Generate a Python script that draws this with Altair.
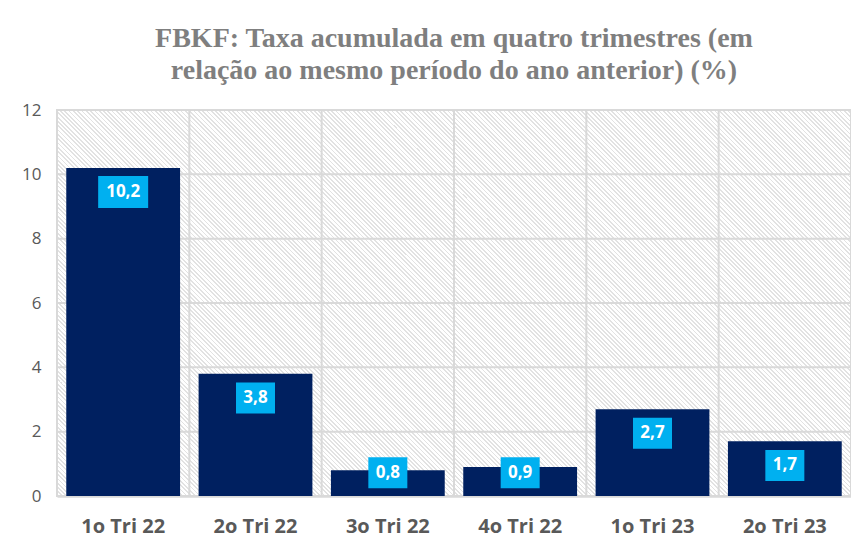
import math
import altair as alt
import pandas as pd

categories = ["1o Tri 22", "2o Tri 22", "3o Tri 22", "4o Tri 22", "1o Tri 23", "2o Tri 23"]
values = [10.2, 3.8, 0.8, 0.9, 2.7, 1.7]
y_ticks = [0, 2, 4, 6, 8, 10, 12]
title_lines = ["FBKF: Taxa acumulada em quatro trimestres (em",
               "relação ao mesmo período do ano anterior) (%)"]

W, H = 794, 386
df = pd.DataFrame({"cat": categories, "value": values})
hgrid_df = pd.DataFrame({"value": y_ticks[1:-1]})
vgrid_df = pd.DataFrame({"cat": categories[1:]})
one_df = pd.DataFrame({"a": [0]})

# diagonal hatch made from a striped linear gradient (45 degree stripes)
invW, invH = 1.0 / W, 1.0 / H
d2 = invW ** 2 + invH ** 2
k = (invW + invH) / d2
gx2, gy2 = invH * k, 1 - invW * k
N = round((W + H) / math.sqrt(2) / 3.05)
stops = []
for i in range(N):
    a, b, c = i / N, (i + 0.4) / N, (i + 1) / N
    stops += [
        {"offset": a, "color": "#e2e2e2"},
        {"offset": b, "color": "#e2e2e2"},
        {"offset": b, "color": "#ffffff"},
        {"offset": c, "color": "#ffffff"},
    ]
gradient = alt.LinearGradient(gradient="linear", stops=stops, x1=0, y1=1, x2=gx2, y2=gy2)

GRID = "#d9d9d9"
TXT = "#595959"

yscale = alt.Scale(domain=[0, 12])
xscale = alt.Scale(domain=categories, paddingInner=0.14, paddingOuter=0.07)

bg = alt.Chart(one_df).mark_rect(fill=gradient, stroke=GRID, strokeWidth=2).encode(
    x=alt.value(0), x2=alt.value(W), y=alt.value(0), y2=alt.value(H)
)

hgrid = alt.Chart(hgrid_df).mark_rule(color=GRID, strokeWidth=2).encode(
    y=alt.Y("value:Q", scale=yscale, title=None, axis=alt.Axis(values=y_ticks))
)

vgrid = alt.Chart(vgrid_df).mark_rule(color=GRID, strokeWidth=2).encode(
    x=alt.X("cat:N", sort=categories, bandPosition=0, title=None,
            scale=alt.Scale(domain=categories, paddingInner=0, paddingOuter=0),
            axis=alt.Axis(orient="top", labels=False, domain=False, ticks=False, grid=False))
)

base = alt.Chart(df).transform_calculate(
    label="replace(format(datum.value, '.1f'), '.', ',')",
    lpos="max(datum.value - 0.75, 0.72)",
)

xaxis = alt.Axis(orient="bottom")
bars = base.mark_bar(color="#002060").encode(
    x=alt.X("cat:N", sort=categories, scale=xscale, title=None, axis=xaxis),
    y=alt.Y("value:Q", scale=yscale, title=None, axis=alt.Axis(values=y_ticks)),
)

path4 = "M-25,-16L25,-16L25,16L-25,16Z"
path3 = "M-19.5,-15.5L19.5,-15.5L19.5,15.5L-19.5,15.5Z"

boxes = base.mark_point(filled=True, opacity=1, strokeWidth=0, color="#00b0f0").encode(
    x=alt.X("cat:N", sort=categories, scale=xscale, title=None, axis=xaxis),
    y=alt.Y("lpos:Q", scale=yscale, title=None, axis=alt.Axis(values=y_ticks)),
    shape=alt.condition("length(datum.label) > 3", alt.value(path4), alt.value(path3)),
    size=alt.value(4),
)

texts = base.mark_text(font="Open Sans", fontWeight="bold", fontSize=17, color="white",
                       baseline="middle", align="center").encode(
    x=alt.X("cat:N", sort=categories, scale=xscale, title=None, axis=xaxis),
    y=alt.Y("lpos:Q", scale=yscale, title=None, axis=alt.Axis(values=y_ticks)),
    text="label:N",
)

main = alt.layer(bars, boxes, texts)

chart = alt.layer(bg, hgrid, vgrid, main).resolve_scale(x="independent").properties(
    width=W,
    height=H,
    autosize="none",
    padding={"left": 49, "top": 102, "right": 0, "bottom": 46},
    title=alt.TitleParams(title_lines, font="Liberation Serif", fontSize=28,
                          fontWeight="bold", color="#7f7f7f", anchor="middle",
                          offset=16, lineHeight=32),
).configure_view(stroke=None).configure(background="white").configure_axisX(
    labelAngle=0, labelFont="Open Sans", labelFontWeight="bold", labelFontSize=20,
    labelColor=TXT, labelBaseline="middle", labelPadding=30, ticks=False, tickSize=0,
    domain=True, domainColor=GRID, domainWidth=2.5, grid=False,
).configure_axisY(
    labelFont="Open Sans", labelFontSize=17, labelColor=TXT, labelPadding=16,
    ticks=False, tickSize=0, domain=False, grid=False,
)

chart.save("out.html", embed_options={"renderer": "svg", "actions": False})
